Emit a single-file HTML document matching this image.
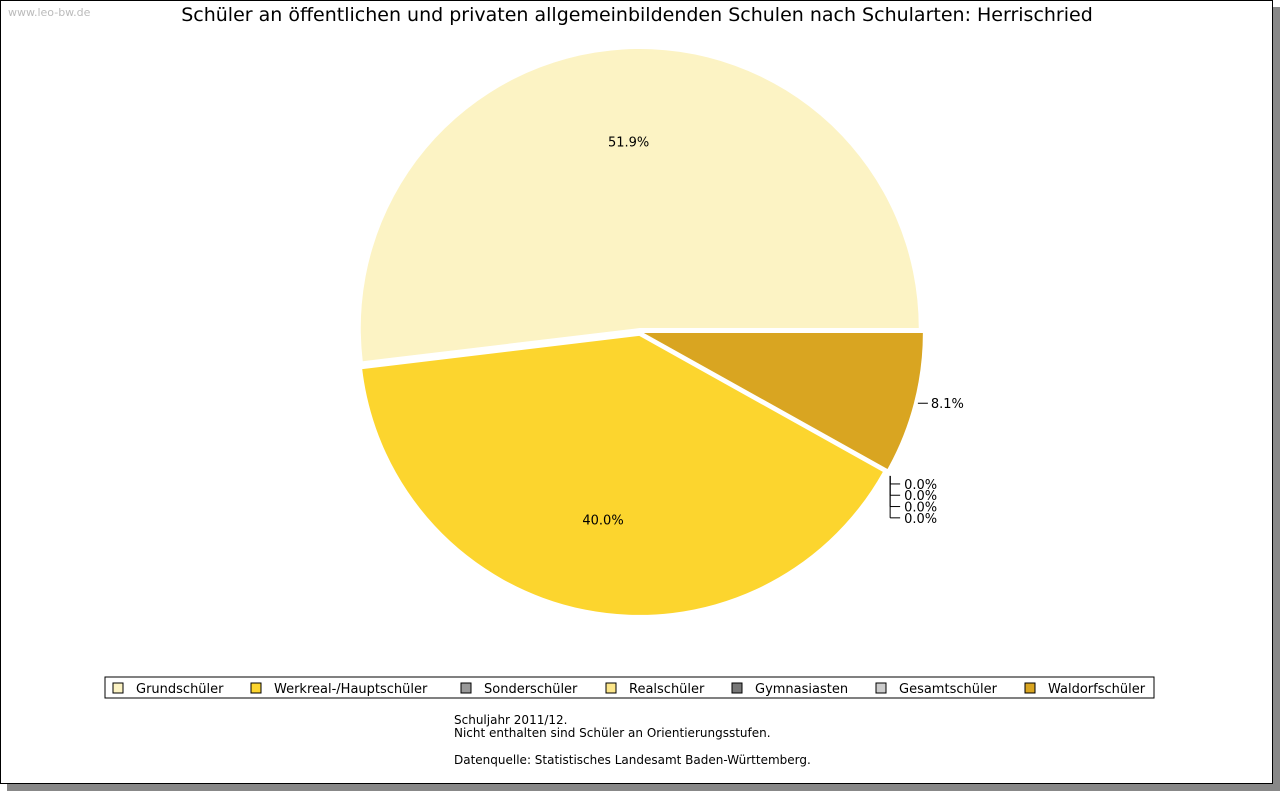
<!DOCTYPE html>
<html><head><meta charset="utf-8"><style>
body{margin:0;width:1280px;height:791px;background:#fff;font-family:"DejaVu Sans","Liberation Sans",sans-serif;overflow:hidden}
#frame{position:absolute;left:0;top:0;width:1271px;height:782px;border:1px solid #000;box-shadow:7px 7px 0 #888;background:#fff}
text{font-family:"DejaVu Sans","Liberation Sans",sans-serif}
</style></head><body>
<div id="frame"></div>
<svg id="svg" width="1280" height="791" style="position:absolute;left:0;top:0">
<text x="8" y="16" font-size="11" fill="#bbb">www.leo-bw.de</text>
<text x="637" y="21" font-size="19" text-anchor="middle">Schüler an öffentlichen und privaten allgemeinbildenden Schulen nach Schularten: Herrischried</text>
<g id="pie"></g>
<rect x="105" y="677" width="1049" height="21" fill="none" stroke="#000"/>
<g id="legend"></g>
<text x="454" y="724" font-size="12">Schuljahr 2011/12.</text>
<text x="454" y="737" font-size="12">Nicht enthalten sind Schüler an Orientierungsstufen.</text>
<text x="454" y="764" font-size="12">Datenquelle: Statistisches Landesamt Baden-Württemberg.</text>
</svg>
<script>
const categories=["Grundschüler","Werkreal-/Hauptschüler","Sonderschüler","Realschüler","Gymnasiasten","Gesamtschüler","Waldorfschüler"];
const values=[51.9,40.0,0,0,0,0,8.1];
const colors=["#FCF3C4","#FCD52E","#999999","#FCE68A","#777777","#CCCCCC","#D9A521"];
const NS="http://www.w3.org/2000/svg";
const cx=640,cy=332,R=279,ex=4;
const pie=document.getElementById('pie');
const total=values.reduce((a,b)=>a+b,0);
let a0=0;let zeroIdx=0;
function mk(t,attrs,parent){const e=document.createElementNS(NS,t);for(const k in attrs)e.setAttribute(k,attrs[k]);parent.appendChild(e);return e;}
values.forEach((v,i)=>{
  const sweep=v/total*2*Math.PI;const a1=a0+sweep;const mid=(a0+a1)/2;
  if(v>0){
    const ox=cx+ex*Math.cos(mid),oy=cy-ex*Math.sin(mid);
    const x0=ox+R*Math.cos(a0),y0=oy-R*Math.sin(a0),x1=ox+R*Math.cos(a1),y1=oy-R*Math.sin(a1);
    const p=mk('path',{d:`M${ox},${oy}L${x0},${y0}A${R},${R} 0 ${sweep>Math.PI?1:0} 0 ${x1},${y1}Z`,fill:colors[i]},pie);
    
    
    let lx,ly,anchor='middle';
    if(v>15){lx=ox+R*0.67*Math.cos(mid);ly=oy-R*0.67*Math.sin(mid);}
    else{const px=ox+R*Math.cos(mid),py=oy-R*Math.sin(mid);
      mk('line',{x1:px+4,y1:py,x2:px+14,y2:py,stroke:'#000'},pie);lx=px+17;ly=py;anchor='start';}
    const t=mk('text',{x:lx,y:ly+5,'font-size':13,'text-anchor':anchor},pie);t.textContent=v.toFixed(1)+'%';
    
    
  } else {
    const bx=cx+ex*Math.cos(a0)+R*Math.cos(a0)+3,by=cy-R*Math.sin(a0)+8;
    const yy=by+8+zeroIdx*11.3;
    mk('line',{x1:bx,y1:yy,x2:bx+10,y2:yy,stroke:'#000'},pie);
    mk('line',{x1:bx,y1:by,x2:bx,y2:yy,stroke:'#000'},pie);
    const t=mk('text',{x:bx+14,y:yy+5,'font-size':13},pie);t.textContent=v.toFixed(1)+'%';
    
    
    zeroIdx++;
  }
  a0=a1;
});
const lg=document.getElementById('legend');
const lx=[113,251,461,606,732,876,1025];
categories.forEach((c,i)=>{
  const r=mk('rect',{x:lx[i],y:683,width:10,height:10,fill:colors[i],stroke:'#000'},lg);
  
  
  const t=mk('text',{x:lx[i]+23,y:693,'font-size':13},lg);t.textContent=c;
  
  
});
</script>
</body></html>
